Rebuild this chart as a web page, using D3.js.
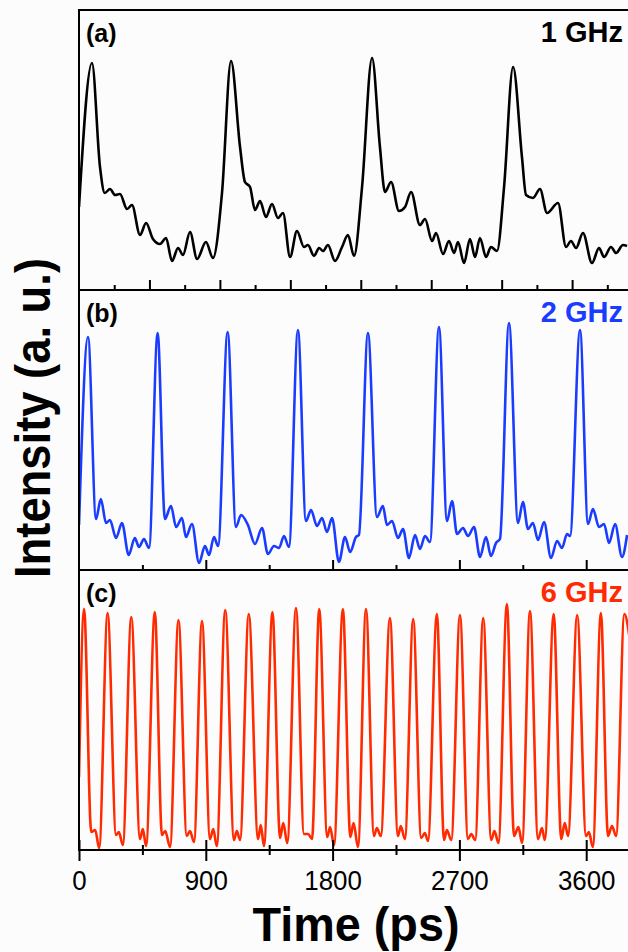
<!DOCTYPE html>
<html>
<head>
<meta charset="utf-8">
<script src="https://cdn.jsdelivr.net/npm/d3@7"></script>
<style>
  html, body { margin: 0; padding: 0; background: #fcfcfc; overflow: hidden; }
  svg { display: block; }
  text { font-family: "Liberation Sans", Arial, sans-serif; }
</style>
</head>
<body>
<svg id="chart" width="628" height="952"></svg>
<script>
// ---------------- DATA ----------------
const panelLabels = ["(a)", "(b)", "(c)"];
const freqLabels = ["1 GHz", "2 GHz", "6 GHz"];
const xTickLabels = [0, 900, 1800, 2700, 3600];
const xAxisTitle = "Time (ps)";
const yAxisTitle = "Intensity (a. u.)";

// (a) 1 GHz
const aTime = [0,92,149,183,220,256,291,341,376,433,476,525,575,618,660,703,738,788,838,901,951,1015,1079,1143,1178,1214,1249,1285,1327,1370,1412,1448,1498,1547,1597,1625,1668,1704,1732,1767,1817,1867,1909,1952,2009,2080,2136,2172,2215,2271,2314,2357,2420,2456,2506,2534,2584,2626,2662,2690,2733,2775,2811,2846,2889,2924,2967,3017,3081,3144,3173,3222,3272,3322,3400,3457,3492,3528,3577,3641,3691,3727,3776,3812,3861,3890];
const aInt = [83,227,123,97,101,95,96,81,85,55,67,51,46,52,29,42,35,58,31,48,32,97,229,143,108,103,80,89,73,86,72,77,33,59,43,45,34,42,39,45,29,43,55,34,103,232,143,98,108,79,83,98,65,71,49,57,36,49,37,48,27,51,33,52,33,43,39,103,223,133,95,92,101,77,87,43,49,42,57,27,42,33,43,37,45,44];

// (b) 2 GHz
const bTime = [0,64,121,155,192,220,263,305,353,396,426,461,497,558,610,653,689,731,759,802,852,894,923,958,987,1055,1114,1150,1199,1249,1299,1341,1384,1420,1455,1490,1554,1611,1647,1689,1725,1760,1796,1845,1888,1924,1966,1987,2051,2115,2157,2186,2222,2264,2300,2342,2385,2420,2456,2491,2555,2612,2648,2683,2726,2761,2804,2846,2889,2924,2960,2988,3052,3116,3151,3187,3222,3258,3301,3350,3393,3428,3464,3485,3556,3613,3648,3691,3727,3762,3805,3854,3890];
const bInt = [45,233,51,71,47,50,32,47,15,32,23,31,22,237,51,64,43,52,33,46,7,24,15,33,24,238,43,55,45,26,42,16,24,22,34,23,240,49,60,44,52,38,52,8,33,18,33,35,237,53,64,45,49,32,41,12,35,21,34,28,243,49,69,36,42,34,43,13,33,14,27,31,247,47,68,41,47,30,48,12,29,22,36,34,240,46,61,43,46,27,46,13,35];

// (c) 6 GHz
const cTime = [0,36,87,115,143,203,263,283,311,371,433,453,476,538,589,612,646,706,765,788,816,873,930,953,978,1038,1100,1120,1143,1205,1271,1290,1313,1373,1427,1450,1478,1540,1597,1626,1654,1705,1762,1782,1810,1873,1926,1949,1980,2037,2094,2114,2142,2207,2264,2284,2313,2372,2429,2455,2477,2540,2591,2611,2642,2704,2761,2784,2812,2869,2926,2949,2977,3037,3088,3119,3145,3201,3258,3286,3306,3369,3423,3448,3471,3536,3599,3619,3647,3704,3755,3783,3812,3871,3905];
const cInt = [73,241,18,20,2,237,15,18,5,233,11,21,4,238,15,19,3,230,14,19,8,229,11,21,4,240,10,19,10,236,11,25,4,238,12,27,7,242,16,16,11,241,13,23,5,241,13,27,3,241,14,22,14,232,14,24,11,231,12,17,9,236,10,20,10,235,11,16,10,232,10,19,7,246,14,23,7,239,11,22,10,236,11,27,14,235,14,18,3,237,14,24,14,236,215];

const seriesTimes = [aTime, bTime, cTime];
const seriesInts = [aInt, bInt, cInt];
const seriesColors = ["#000000", "#1a3cff", "#ff2a00"];
const labelColors = ["#000000", "#1a3cff", "#ff2a00"];

// ---------------- LAYOUT ----------------
const svg = d3.select("#chart");
svg.append("rect").attr("width", 628).attr("height", 952).attr("fill", "#fcfcfc");

const left = 79, pxPer900 = 126.8;
const xMax = 4000;
const right = left + xMax / 900 * pxPer900;
const panelTop0 = 10, panelH = 280;

const x = d3.scaleLinear().domain([0, xMax]).range([left, right]);

const defs = svg.append("defs");

for (let p = 0; p < 3; p++) {
  const top = panelTop0 + p * panelH, bottom = top + panelH;
  const y = d3.scaleLinear().domain([0, 280]).range([bottom, top]);
  const g = svg.append("g");

  defs.append("clipPath").attr("id", "clip" + p)
    .append("rect").attr("x", left).attr("y", top).attr("width", right - left).attr("height", panelH);

  const data = seriesTimes[p].map((t, i) => ({ t, v: seriesInts[p][i] }));
  const line = d3.line().x(d => x(d.t)).y(d => y(d.v)).curve(d3.curveMonotoneX);

  g.append("path").datum(data)
    .attr("clip-path", `url(#clip${p})`)
    .attr("d", line)
    .attr("fill", "none")
    .attr("stroke", seriesColors[p])
    .attr("stroke-width", 2.6)
    .attr("stroke-linejoin", "round");

  // frame
  g.append("rect").attr("x", left).attr("y", top).attr("width", right - left).attr("height", panelH)
    .attr("fill", "none").attr("stroke", "#000").attr("stroke-width", 2);

  // ticks
  const minorStep = p === 0 ? 250 : 450;
  const majorStep = p === 0 ? 500 : 900;
  const tickVals = d3.range(minorStep, xMax + 1, minorStep);
  if (p < 2) {
    const axMajor = d3.axisTop(x).tickValues(tickVals.filter(v => v % majorStep === 0)).tickSize(10).tickFormat("");
    const axMinor = d3.axisTop(x).tickValues(tickVals.filter(v => v % majorStep !== 0)).tickSize(5).tickFormat("");
    [axMajor, axMinor].forEach(ax => {
      const a = g.append("g").attr("transform", `translate(0,${bottom})`).call(ax);
      a.select(".domain").remove();
      a.selectAll("line").attr("stroke", "#000").attr("stroke-width", 2);
    });
  } else {
    const axMajor = d3.axisBottom(x).tickValues(xTickLabels).tickSize(11).tickFormat(d3.format("d"));
    const a = g.append("g").attr("transform", `translate(0,${bottom})`).call(axMajor);
    a.select(".domain").remove();
    a.selectAll("line").attr("y1", -10).attr("stroke", "#000").attr("stroke-width", 2);
    a.selectAll("text")
      .attr("y", 40).attr("dy", 0)
      .attr("fill", "#000")
      .style("font-size", "28px")
      .style("font-family", '"Liberation Sans", Arial, sans-serif')
      .attr("textLength", d => String(d).length * 14.4)
      .attr("lengthAdjust", "spacingAndGlyphs");
    const axMinor = d3.axisBottom(x).tickValues(tickVals.filter(v => v % majorStep !== 0)).tickSize(5).tickFormat("");
    const b = g.append("g").attr("transform", `translate(0,${bottom})`).call(axMinor);
    b.select(".domain").remove();
    b.selectAll("line").attr("y1", -5).attr("stroke", "#000").attr("stroke-width", 2);
  }

  // labels
  g.append("text").attr("x", 86).attr("y", top + 32)
    .attr("font-size", 25).attr("font-weight", "bold").attr("fill", "#000")
    .text(panelLabels[p]);
  g.append("text").attr("x", 623).attr("y", top + 32)
    .attr("text-anchor", "end")
    .attr("font-size", 29).attr("font-weight", "bold").attr("fill", labelColors[p])
    .text(freqLabels[p]);
}

// axis titles
svg.append("text")
  .attr("x", 356).attr("y", 941)
  .attr("text-anchor", "middle")
  .attr("font-size", 49).attr("font-weight", "bold").attr("fill", "#000")
  .attr("textLength", 207).attr("lengthAdjust", "spacingAndGlyphs")
  .text(xAxisTitle);

svg.append("text")
  .attr("transform", "translate(50,418) rotate(-90)")
  .attr("text-anchor", "middle")
  .attr("font-size", 50).attr("font-weight", "bold").attr("fill", "#000")
  .attr("textLength", 320).attr("lengthAdjust", "spacingAndGlyphs")
  .text(yAxisTitle);
</script>
</body>
</html>
